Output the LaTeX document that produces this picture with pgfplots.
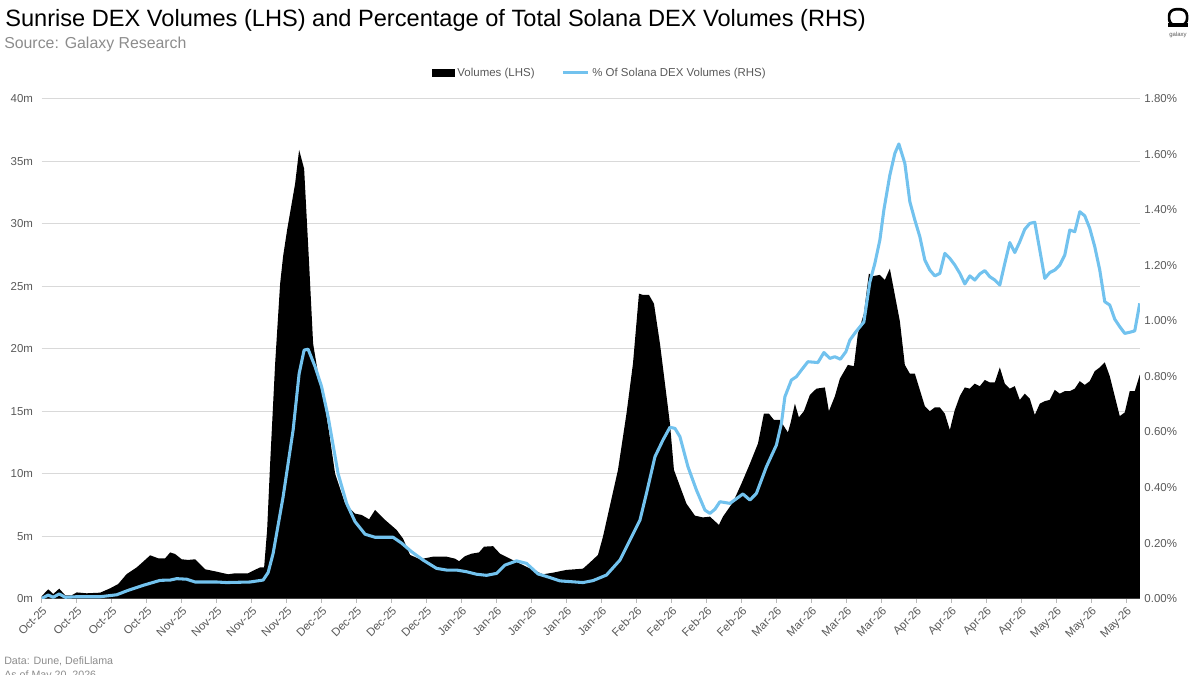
\documentclass[border=0pt]{standalone}
\usepackage{fontspec}
\setmainfont{Liberation Sans}
\usepackage{pgfplots}
\pgfplotsset{compat=1.18}
\definecolor{lineblue}{HTML}{72C2EE}
\definecolor{tickgray}{HTML}{595959}
\definecolor{gridgray}{HTML}{D9D9D9}
\definecolor{subgray}{HTML}{8C8C8C}
\begin{document}
\begin{tikzpicture}
\useasboundingbox (-31.3pt,-56.5pt) rectangle (867.2pt,449pt);
\begin{axis}[
  at={(0,0)}, anchor=south west, scale only axis,
  width=823.5pt, height=375pt,
  xmin=0, xmax=219.7, ymin=0, ymax=40,
  axis x line*=bottom, axis y line*=left,
  x axis line style={draw=gray!55, line width=0.8pt},
  y axis line style={draw=none},
  /pgf/number format/assume math mode=true,
  tick align=outside,
  xtick={0,7,...,217},
  xticklabels={Oct-25,Oct-25,Oct-25,Oct-25,Nov-25,Nov-25,Nov-25,Nov-25,Dec-25,Dec-25,Dec-25,Dec-25,Jan-26,Jan-26,Jan-26,Jan-26,Jan-26,Feb-26,Feb-26,Feb-26,Feb-26,Mar-26,Mar-26,Mar-26,Mar-26,Apr-26,Apr-26,Apr-26,Apr-26,May-26,May-26,May-26},
  xtick style={draw=gray!55, line width=0.6pt},
  major tick length=3pt,
  xticklabel style={rotate=45, anchor=north east, font=\fontsize{8.6}{10}\selectfont, text=tickgray, inner sep=1.5pt},
  ytick={0,5,...,40},
  yticklabels={0m,5m,10m,15m,20m,25m,30m,35m,40m},
  ytick style={draw=none},
  yticklabel style={font=\fontsize{8.6}{10}\selectfont, text=tickgray},
  ymajorgrids, grid style={gridgray, line width=0.75pt},
]
\addplot[fill=black, draw=none] coordinates {
(0,0.2) (1.3,0.75) (2.3,0.37) (3.5,0.8) (4.7,0.27) (6,0.27) (7,0.5) (9,0.43) (11.7,0.48) (13.7,0.83)
(15.3,1.17) (17,1.97) (19,2.5) (20.3,2.96) (21.7,3.47) (23.3,3.23) (24.7,3.23) (25.7,3.7) (26.7,3.57) (28,3.15)
(29.3,3.1) (30.7,3.15) (32.7,2.35) (35,2.16) (37.3,1.95) (38.7,2.03) (41.3,2.03) (42.3,2.24) (43.7,2.5) (44.5,2.5)
(45.1,5.5) (45.7,10.8) (46.7,18.8) (47.7,25.2) (48.3,27.4) (49.1,29.5) (50.7,33.2) (51.5,35.9) (52.5,34.4) (53.5,26.8)
(54.3,20.4) (55.5,17.5) (56.5,15.8) (57.5,13.3) (58.7,10) (60.7,7.6) (62.7,6.8) (64,6.7) (65.5,6.35) (66.7,7.1)
(68.7,6.3) (71,5.5) (72.3,4.8) (73.7,3.5) (75.7,3.15) (78.3,3.36) (81,3.36) (82.7,3.2) (83.5,3.0) (84.7,3.4)
(86,3.6) (87.5,3.7) (88.5,4.16) (90.3,4.2) (91.7,3.6) (93.7,3.2) (95.7,2.8) (98.3,2.3) (100.3,1.95) (102.3,2.08)
(105,2.3) (108.3,2.4) (109.7,2.9) (111.3,3.5) (112.3,4.96) (113.5,7.1) (115.3,10.3) (117,14.8) (118.3,18.8) (119.5,24.4)
(120.3,24.3) (121.5,24.3) (122.5,23.6) (123.7,20.4) (124.7,17.2) (125.7,14) (126.5,10.3) (127.7,9) (129,7.6) (130.7,6.64)
(132.3,6.5) (133.7,6.56) (135.5,5.9) (136.3,6.56) (138.3,7.7) (140,9.2) (141.7,10.8) (143.3,12.4) (144.5,14.8) (145.5,14.8)
(146.5,14.3) (147.7,14.3) (149.3,13.3) (149.8,14) (150.7,15.6) (151.5,14.5) (152.5,15) (153.7,16.3) (155,16.8) (156.7,16.9)
(157.5,15) (158.7,16.2) (159.7,17.6) (161.3,18.7) (162.5,18.6) (163.3,21.2) (164.5,22.8) (165.5,26) (166.3,25.8) (167.7,25.9)
(168.7,25.5) (169.7,26.4) (170.7,24.3) (171.7,22.2) (172.7,18.7) (173.7,18) (174.7,18) (175.7,16.7) (176.7,15.4) (177.7,15)
(178.7,15.3) (179.7,15.3) (180.7,14.8) (181.7,13.5) (182.7,15.1) (183.7,16.2) (184.7,16.9) (185.7,16.8) (186.7,17.2) (187.7,17)
(188.7,17.5) (189.7,17.3) (190.7,17.3) (191.7,18.5) (192.7,17.2) (193.7,16.8) (194.7,17) (195.7,15.9) (196.7,16.4) (197.7,16)
(198.7,14.7) (199.7,15.6) (200.7,15.8) (201.7,15.9) (202.7,16.7) (203.7,16.4) (204.7,16.6) (205.7,16.6) (206.7,16.8) (207.7,17.4)
(208.7,17.1) (209.7,17.4) (210.7,18.2) (211.7,18.5) (212.7,18.9) (213.7,17.8) (214.7,16.2) (215.7,14.6) (216.7,14.9) (217.7,16.6)
(218.7,16.6) (219.7,17.9)
} \closedcycle;
\end{axis}
\begin{axis}[
  at={(0,0)}, anchor=south west, scale only axis,
  width=823.5pt, height=375pt,
  xmin=0, xmax=219.7, ymin=0, ymax=1.8,
  axis x line=none, axis y line*=right,
  y axis line style={draw=none},
  ytick style={draw=none},
  ytick={0,0.2,0.4,0.6,0.8,1,1.2,1.4,1.6,1.8},
  yticklabels={0.00\%,0.20\%,0.40\%,0.60\%,0.80\%,1.00\%,1.20\%,1.40\%,1.60\%,1.80\%},
  yticklabel style={font=\fontsize{8.6}{10}\selectfont, text=tickgray},
  legend style={at={(0.5084,1.0515)}, anchor=center, draw=none, fill=none,
    font=\fontsize{8.6}{10}\selectfont, text=tickgray,
    legend columns=2, /tikz/every even column/.append style={column sep=18pt}},
  legend cell align=left,
]
\addlegendimage{legend image code/.code={\fill[black] (0pt,-2.6pt) rectangle (17pt,2.6pt);}}
\addlegendentry{Volumes (LHS)}
\addplot[lineblue, line width=2.3pt, line join=round, legend image code/.code={\draw[lineblue, line width=2.3pt] (0pt,0pt) -- (19pt,0pt);}] coordinates {
(0,0.001) (1.3,0.013) (2.3,0.005) (3.5,0.017) (4.7,0.005) (7,0.007) (11.7,0.007) (15,0.014) (17,0.028) (20.3,0.048)
(23.7,0.066) (25.7,0.067) (27,0.072) (29,0.07) (30.7,0.06) (35,0.06) (37,0.058) (41.7,0.06) (44.3,0.067) (45.3,0.094)
(46.3,0.163) (48.3,0.367) (50.3,0.607) (51.5,0.81) (52.5,0.895) (53.3,0.898) (54.7,0.835) (56,0.763) (57.3,0.655) (59.3,0.45)
(61,0.343) (62.7,0.277) (64.7,0.232) (66.7,0.221) (70.3,0.221) (72,0.2) (74,0.169) (76.3,0.139) (79,0.109) (81,0.103)
(83,0.103) (85,0.097) (87,0.088) (89,0.084) (91,0.091) (92.7,0.121) (95,0.136) (97,0.127) (99.3,0.089) (101.7,0.076)
(103.7,0.064) (108.3,0.058) (110.3,0.065) (113,0.085) (115.7,0.139) (117.7,0.211) (119.7,0.283) (121,0.379) (122.7,0.511) (124.3,0.571)
(125.7,0.617) (126.7,0.613) (127.7,0.583) (129.3,0.475) (131,0.391) (132.7,0.319) (133.7,0.307) (134.7,0.322) (135.7,0.349) (137.7,0.343)
(140.3,0.377) (141.7,0.355) (143,0.379) (145,0.475) (147,0.553) (148,0.631) (148.7,0.727) (150,0.787) (151,0.799) (152,0.823)
(153.3,0.853) (155.3,0.85) (156.5,0.886) (157.7,0.865) (158.7,0.871) (159.8,0.862) (160.9,0.889) (161.7,0.931) (163,0.963) (164.5,0.996)
(165.7,1.14) (166.7,1.207) (167.7,1.291) (168.5,1.399) (169.7,1.525) (170.7,1.603) (171.5,1.637) (172.7,1.567) (173.7,1.429) (174.7,1.363)
(175.7,1.303) (176.7,1.219) (177.7,1.183) (178.7,1.162) (179.7,1.171) (180.7,1.243) (181.7,1.225) (182.7,1.201) (183.7,1.171) (184.7,1.133)
(185.7,1.162) (186.7,1.147) (187.7,1.169) (188.7,1.181) (189.7,1.159) (190.7,1.147) (191.7,1.129) (192.7,1.207) (193.7,1.282) (194.7,1.246)
(195.7,1.285) (196.7,1.33) (197.7,1.351) (198.7,1.355) (199.7,1.255) (200.7,1.153) (201.7,1.174) (202.7,1.183) (203.7,1.201) (204.7,1.237)
(205.7,1.327) (206.7,1.321) (207.7,1.393) (208.7,1.378) (209.7,1.333) (210.7,1.267) (211.7,1.183) (212.7,1.069) (213.7,1.057) (214.7,1.006)
(215.7,0.979) (216.7,0.955) (217.7,0.959) (218.7,0.964) (219.7,1.063)
};
\addlegendentry{\% Of Solana DEX Volumes (RHS)}
\end{axis}
\node[anchor=base west, inner sep=0, font=\fontsize{17.7}{20}\selectfont] at (-27.5pt,428.8pt) {Sunrise DEX Volumes (LHS) and Percentage of Total Solana DEX Volumes (RHS)};
\node[anchor=base west, inner sep=0, text=subgray, font=\fontsize{11.9}{14}\selectfont] at (-28.3pt,412.3pt) {Source: Galaxy Research};
\node[anchor=base west, inner sep=0, text=subgray, font=\fontsize{8}{10}\selectfont] at (-28.3pt,-49.7pt) {Data: Dune, DefiLlama};
\node[anchor=base west, inner sep=0, text=subgray, font=\fontsize{8}{10}\selectfont] at (-28.3pt,-60pt) {As of May 20, 2026};
\draw[line width=2pt, rounded corners=5pt] (845.5pt,430pt) rectangle (859pt,442pt);
\fill (844.5pt,428.5pt) rectangle (860pt,432pt);
\node[anchor=base, inner sep=0, text=tickgray, font=\fontsize{4.5}{5}\selectfont] at (852.2pt,421.5pt) {galaxy};
\end{tikzpicture}
\end{document}
